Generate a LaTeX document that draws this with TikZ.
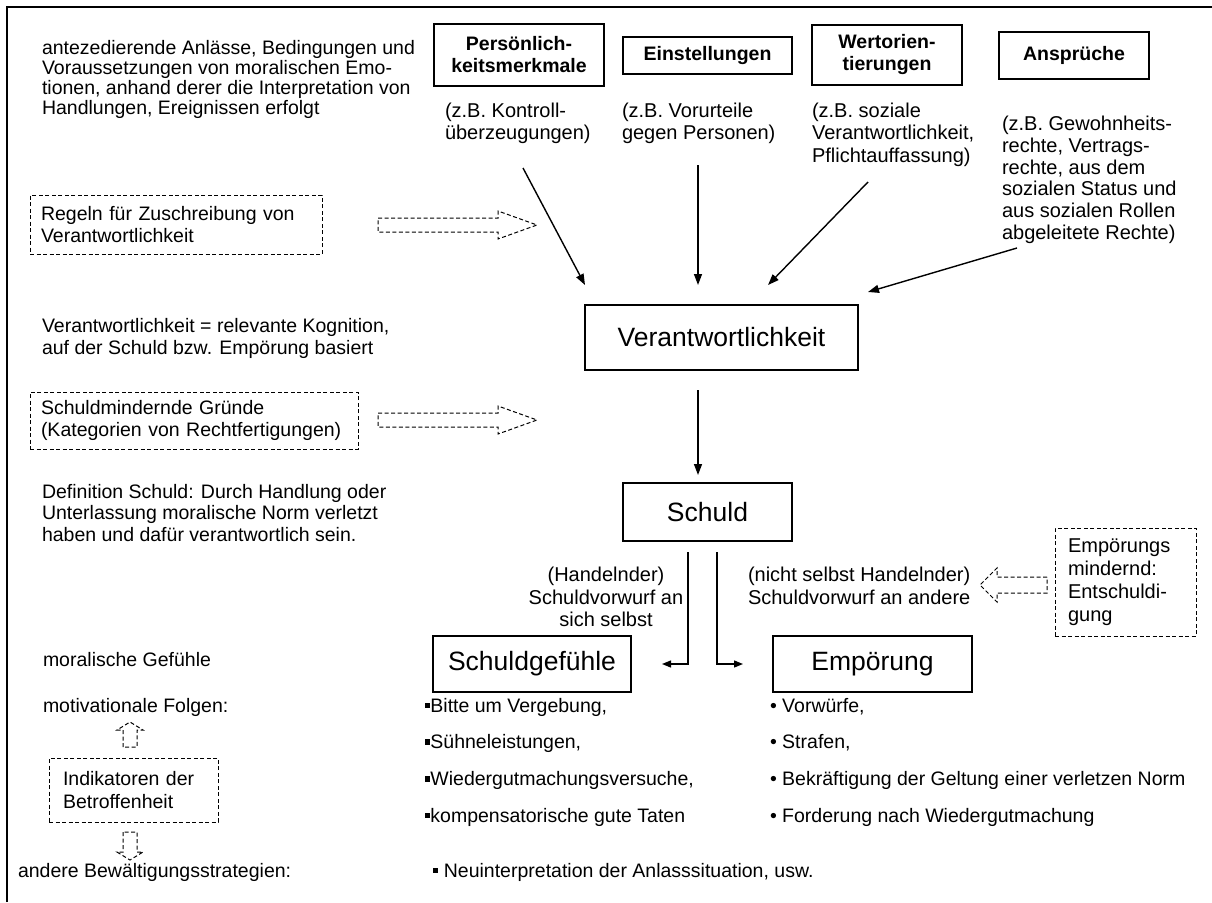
\documentclass[tikz,border=0pt]{standalone}
\usepackage{fontspec}
\setmainfont{Liberation Sans}
\usetikzlibrary{arrows.meta}
\newcommand\fsz[2]{\fontsize{#1}{#2}\selectfont}
\newcommand\sqbul{\rule[0.2em]{0.28em}{0.28em}}
\begin{document}
\begin{tikzpicture}[x=1pt,y=-1pt,
  every node/.style={inner sep=0pt,outer sep=0pt},
  txt/.style={align=left,font=\fsz{19.5}{22.5}},
  ztxt/.style={align=left,font=\fsz{20}{22.5}},
  bbox/.style={draw,line width=1.3pt,align=center,font=\fsz{19.5}{22}\bfseries},
  bigbox/.style={draw,line width=1.3pt,align=center,font=\fsz{26.5}{30}},
  dbox/.style={draw,dash pattern=on 4pt off 2.5pt,line width=1pt,align=left,font=\fsz{19.5}{22.5}},
  harrow/.style={dash pattern=on 4pt off 2.5pt,line width=1pt},
  arr/.style={line width=1.4pt,-{Triangle[length=11pt,width=8pt]}},
  sarr/.style={line width=1.3pt,-{Triangle[length=9pt,width=7pt]}},
  list/.style={align=left,font=\fsz{19.5}{36.7}}
]
\useasboundingbox (0,0) rectangle (1212,902);
% frame
\draw[line width=1.5pt] (7,902) -- (7,7) -- (1212,7);

% top-left text
\node[txt,anchor=north west,font=\fsz{19.5}{20}] (intro) at (42,40)
  {antezedierende Anlässe, Bedingungen und\\Voraussetzungen von moralischen Emo-\\tionen, anhand derer die Interpretation von\\Handlungen, Ereignissen erfolgt};

% top boxes
\node[bbox,minimum width=170,minimum height=62] (P) at (519,55) {Persönlich-\\keitsmerkmale};
\node[bbox,minimum width=169,minimum height=37] (E) at (707.5,55.5) {Einstellungen};
\node[bbox,minimum width=150,minimum height=60] (W) at (887,55) {Wertorien-\\tierungen};
\node[bbox,minimum width=150,minimum height=47] (A) at (1074,55.5) {Ansprüche};

% examples
\node[ztxt,anchor=north west] (Pz) at (445,103) {(z.B. Kontroll-\\überzeugungen)};
\node[ztxt,anchor=north west] (Ez) at (622,103) {(z.B. Vorurteile\\gegen Personen)};
\node[ztxt,anchor=north west] (Wz) at (812,103) {(z.B. soziale\\Verantwortlichkeit,\\Pflichtauffassung)};
\node[ztxt,anchor=north west,font=\fsz{20}{21.8}] (Az) at (1002,116) {(z.B. Gewohnheits-\\rechte, Vertrags-\\rechte, aus dem\\sozialen Status und\\aus sozialen Rollen\\abgeleitete Rechte)};

% Verantwortlichkeit
\node[bigbox,minimum width=273,minimum height=65] (V) at (721.5,337.5) {Verantwortlichkeit};

\coordinate (pA) at (523,168); \coordinate (pB) at (585,285);
\coordinate (eA) at (698,165); \coordinate (eB) at (698,285);
\coordinate (wA) at (868,182); \coordinate (wB) at (768,285);
\coordinate (aA) at (1017,248); \coordinate (aB) at (868,292);
\draw[arr] (pA) -- (pB);
\draw[arr] (eA) -- (eB);
\draw[arr] (wA) -- (wB);
\draw[arr] (aA) -- (aB);

% Regeln box and hollow arrow
\node[dbox,anchor=west,text width=270pt,inner xsep=11pt,minimum height=59] (R) at (30,224.5)
  {Regeln für Zuschreibung von\\Verantwortlichkeit};
\draw[harrow] (378,218) -- (498,218) -- (498,211) -- (537,225) -- (498,239) -- (498,232) -- (378,232) -- cycle;

\node[txt,anchor=north west] (vdef) at (42,318)
  {Verantwortlichkeit = relevante Kognition,\\auf der Schuld bzw. Empörung basiert};

% Schuldmindernde
\node[dbox,anchor=west,text width=306pt,inner xsep=11pt,minimum height=57] (SM) at (30,420.5)
  {Schuldmindernde Gründe\\(Kategorien von Rechtfertigungen)};
\draw[harrow] (378,413) -- (498,413) -- (498,406) -- (537,420) -- (498,434) -- (498,427) -- (378,427) -- cycle;

% Schuld
\node[bigbox,minimum width=169,minimum height=58] (S) at (707.5,512) {Schuld};
\coordinate (vA) at (698,390); \coordinate (vB) at (698,475);
\draw[arr] (vA) -- (vB);

\node[txt,anchor=north west,font=\fsz{19.5}{21.5}] (sdef) at (42,484)
  {Definition Schuld: Durch Handlung oder\\Unterlassung moralische Norm verletzt\\haben und dafür verantwortlich sein.};

\node[txt,align=center,anchor=north,font=\fsz{20}{22.5}] (hand) at (606,567)
  {(Handelnder)\\Schuldvorwurf an\\sich selbst};
\node[txt,anchor=north west,font=\fsz{20}{22.5}] (nhand) at (748,567)
  {(nicht selbst Handelnder)\\Schuldvorwurf an andere};

% Empoerungs mindernd
\node[dbox,anchor=west,text width=115pt,inner xsep=13pt,minimum height=108,font=\fsz{20}{23}] (EMm) at (1055,582)
  {Empörungs\\mindernd:\\Entschuldi-\\gung};
\draw[harrow] (1047,577) -- (997,577) -- (997,568) -- (980,585) -- (997,602) -- (997,593) -- (1047,593) -- cycle;

% emotions
\node[bigbox,minimum width=198,minimum height=56] (SG) at (532,664) {Schuldgefühle};
\node[bigbox,minimum width=199,minimum height=56] (EM) at (872.5,664) {Empörung};
\coordinate (sL) at (688,552); \coordinate (sLt) at (662,664);
\coordinate (sR) at (717,552); \coordinate (sRt) at (743,664);
\draw[sarr] (sL) |- (sLt);
\draw[sarr] (sR) |- (sRt);

\node[txt,anchor=north west] (mg) at (43,652) {moralische Gefühle};
\node[txt,anchor=north west] (mf) at (43,698) {motivationale Folgen:};

\node[list,anchor=north west] (sgl) at (425,698)
  {\sqbul Bitte um Vergebung,\\\sqbul Sühneleistungen,\\\sqbul Wiedergutmachungsversuche,\\\sqbul kompensatorische gute Taten};
\node[list,anchor=north west] (eml) at (770,698)
  {• Vorwürfe,\\• Strafen,\\• Bekräftigung der Geltung einer verletzen Norm\\• Forderung nach Wiedergutmachung};

% Indikatoren
\node[dbox,anchor=west,text width=141pt,inner xsep=14pt,minimum height=64] (IB) at (49,790)
  {Indikatoren der\\Betroffenheit};
\draw[harrow] (123,747) -- (123,730) -- (117,730) -- (130,722) -- (143,730) -- (137,730) -- (137,747) -- cycle;
\draw[harrow] (123,832) -- (123,852) -- (117,852) -- (130,860) -- (143,852) -- (137,852) -- (137,832) -- cycle;

\node[txt,anchor=north west] (ab) at (18,863) {andere Bewältigungsstrategien:};
\node[txt,anchor=north west] (neu) at (433,863) {\sqbul\ Neuinterpretation der Anlasssituation, usw.};
\end{tikzpicture}
\end{document}
